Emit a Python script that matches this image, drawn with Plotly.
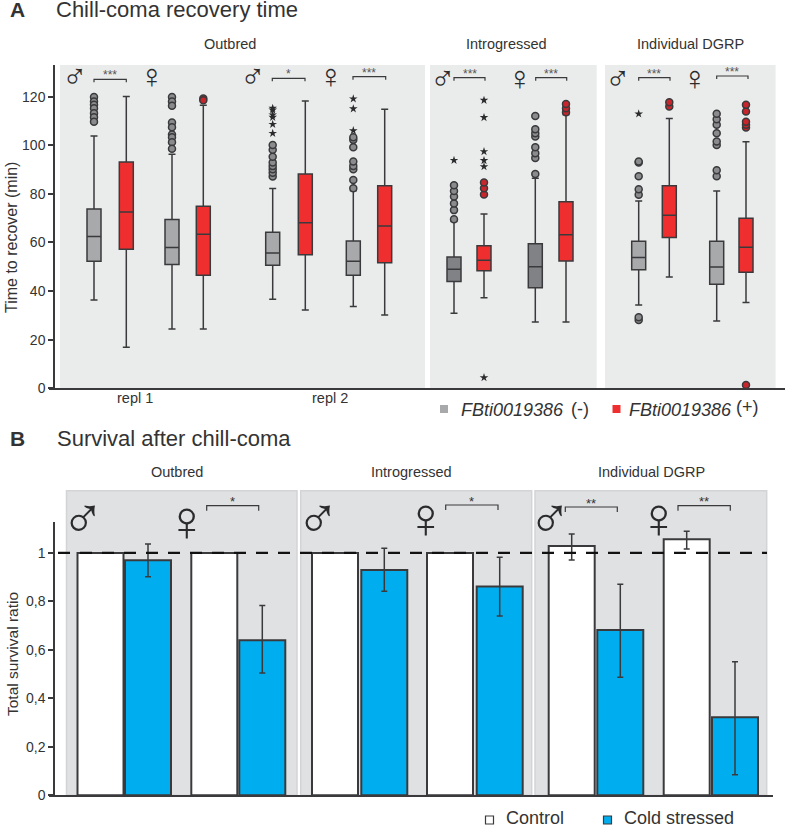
#!/usr/bin/env python
# -*- coding: utf-8 -*-
import plotly.graph_objects as go

W, H = 785, 826

# Panel A: boxplot statistics (minutes)
box_q1 = [52.3, 57.2, 50.9, 46.5, 50.6, 54.9, 46.5, 51.6, 43.9, 48.4, 41.4, 52.4, 48.8, 62.0, 42.8, 47.7]
box_median = [62.4, 72.5, 57.9, 63.4, 55.7, 68.1, 52.3, 66.8, 49.0, 52.7, 50.0, 63.2, 53.8, 71.2, 49.9, 58.0]
box_q3 = [73.8, 93.1, 69.4, 74.9, 64.2, 88.2, 60.6, 83.3, 54.0, 58.6, 59.5, 76.7, 60.5, 83.3, 60.5, 70.0]
box_low = [36.3, 16.9, 24.4, 24.4, 36.6, 32.2, 33.6, 30.2, 30.9, 37.3, 27.3, 27.3, 34.3, 45.8, 27.7, 35.3]
box_up = [103.8, 120.0, 96.3, 116.4, 82.2, 118.2, 81.3, 114.8, 68.6, 71.7, 86.4, 112.5, 77.1, 111.0, 81.2, 101.4]
box_circles = [
    [119.8, 118.0, 116.6, 115.2, 113.2, 111.5, 109.7],
    [],
    [119.8, 118.0, 116.2, 109.3, 107.4, 104.4, 103.3, 101.2, 98.5],
    [119.2, 118.5],
    [87.1, 88.7, 90.1, 91.4, 92.9, 95.3, 98.1, 100.1],
    [],
    [82.3, 85.7, 90.1, 91.5, 93.3, 99.2, 102.2, 103.3],
    [],
    [69.5, 73.3, 76.0, 78.9, 81.2, 83.5],
    [79.7, 82.3, 84.7],
    [88.2, 94.7, 96.7, 99.2, 103.6, 104.9, 106.6, 112.0],
    [113.6, 115.2, 117.0],
    [28.1, 29.2, 79.6, 81.9, 87.2, 92.9, 93.3],
    [115.9, 117.7],
    [87.2, 89.7, 100.1, 101.5, 104.9, 108.4, 110.7, 112.9],
    [1.4, 107.3, 108.4, 109.7, 113.9, 116.6],
]
box_stars = [
    [], [], [], [],
    [104.9, 108.6, 111.5, 112.5, 114.5, 115.2],
    [],
    [106.0, 115.0, 119.1],
    [],
    [93.8],
    [4.4, 91.2, 93.7, 97.4, 111.4, 118.5],
    [], [],
    [112.9],
    [], [], [],
]
box_x = [94, 126.3, 172, 203.3, 272.7, 305.3, 353.3, 384.7, 454, 484, 535.3, 566, 638.7, 669.3, 716.7, 746]
box_fill = ['#A7A9AB', '#EE2E2F', '#A7A9AB', '#EE2E2F', '#A7A9AB', '#EE2E2F', '#A7A9AB', '#EE2E2F',
            '#808285', '#EE2E2F', '#808285', '#EE2E2F', '#A7A9AB', '#EE2E2F', '#A7A9AB', '#EE2E2F']
recover_ticks = [0, 20, 40, 60, 80, 100, 120]

# Panel B: survival ratio
control_values = [1, 1, 1, 1, 1.029, 1.057]
control_up = [None, None, None, None, 1.078, 1.09]
control_low = [None, None, None, None, 0.971, 1.016]
cold_values = [0.97, 0.64, 0.93, 0.862, 0.682, 0.322]
cold_up = [1.037, 0.783, 1.019, 0.982, 0.871, 0.551]
cold_low = [0.902, 0.505, 0.842, 0.74, 0.487, 0.085]
control_x = [100.5, 214.3, 335, 450, 571.7, 686.7]
cold_x = [148, 262.3, 384.3, 499.7, 620.3, 735]
survival_ticks = [0, 0.2, 0.4, 0.6, 0.8, 1]
survival_labels = ['0', '0,2', '0,4', '0,6', '0,8', '1']

FONT = 'Liberation Sans'
DARK = '#3A3A3C'
TEXT = '#333333'


def px(x):
    return x / W


def py(y):
    return 1 - y / H


fig = go.Figure()

# Boxplots
for i in range(len(box_x)):
    fig.add_trace(go.Box(x=[box_x[i]], q1=[box_q1[i]], median=[box_median[i]], q3=[box_q3[i]],
                         lowerfence=[box_low[i]], upperfence=[box_up[i]],
                         width=14, whiskerwidth=0.5, boxpoints=False,
                         fillcolor=box_fill[i], line=dict(color=DARK, width=1.5),
                         xaxis='x', yaxis='y'))
    red = box_fill[i] == '#EE2E2F'
    if box_circles[i]:
        fig.add_trace(go.Scatter(x=[box_x[i]] * len(box_circles[i]), y=box_circles[i], mode='markers',
                                 marker=dict(symbol='circle', size=7,
                                             color='#C8252C' if red else '#8A8B8D',
                                             line=dict(color=DARK, width=1.5)),
                                 xaxis='x', yaxis='y'))
    if box_stars[i]:
        fig.add_trace(go.Scatter(x=[box_x[i]] * len(box_stars[i]), y=box_stars[i], mode='markers',
                                 marker=dict(symbol='star', size=6.5, color='#2B2B2D'),
                                 xaxis='x', yaxis='y'))

# Barres
fig.add_trace(go.Bar(x=control_x, y=control_values, width=46, name='Control',
                     marker=dict(color='white', line=dict(color=DARK, width=2)),
                     error_y=dict(type='data', symmetric=False,
                                  array=[None if u is None else u - v for u, v in zip(control_up, control_values)],
                                  arrayminus=[None if l is None else v - l for l, v in zip(control_low, control_values)],
                                  color=DARK, thickness=1.5, width=3),
                     xaxis='x2', yaxis='y2'))
fig.add_trace(go.Bar(x=cold_x, y=cold_values, width=46, name='Cold stressed',
                     marker=dict(color='#00AEEF', line=dict(color=DARK, width=2)),
                     error_y=dict(type='data', symmetric=False,
                                  array=[u - v for u, v in zip(cold_up, cold_values)],
                                  arrayminus=[v - l for l, v in zip(cold_low, cold_values)],
                                  color=DARK, thickness=1.5, width=3),
                     xaxis='x2', yaxis='y2'))

shapes = []

# Fonds gris
for x0, x1 in [(60, 425), (430, 596.7), (605, 775.6)]:
    shapes.append(dict(type='rect', xref='paper', yref='paper', x0=px(x0), x1=px(x1), y0=py(388.3), y1=py(65),
                       fillcolor='#EAEBEB', line=dict(width=0), layer='below'))
for x0, x1 in [(66.5, 297), (300.7, 531.7), (535, 766.7)]:
    shapes.append(dict(type='rect', xref='paper', yref='paper', x0=px(x0), x1=px(x1), y0=py(795.3), y1=py(490.7),
                       fillcolor='#E0E1E3', line=dict(color='#D3D4D6', width=1.5), layer='below'))

# Ligne pointillee a 1
shapes.append(dict(type='line', xref='paper', yref='y2', x0=px(58), x1=px(767), y0=1, y1=1,
                   line=dict(color='#111111', width=2.2, dash='12px,10px'), layer='above'))


def bracket(x0, x1, y, leg):
    shapes.append(dict(type='path', xref='paper', yref='paper',
                       path=f'M {px(x0)} {py(y + leg)} L {px(x0)} {py(y)} L {px(x1)} {py(y)} L {px(x1)} {py(y + leg)}',
                       line=dict(color=DARK, width=1.2)))


annotations = []


def label(x, y, text, size=14.5, color=TEXT, xanchor='center', angle=0, family=FONT):
    annotations.append(dict(xref='paper', yref='paper', x=px(x), y=py(y), text=text, showarrow=False,
                            xanchor=xanchor, yanchor='middle', textangle=angle,
                            font=dict(family=family, size=size, color=color)))


# Titres
label(8, 9, '<b>A</b>', size=21, xanchor='left')
label(54, 9, 'Chill-coma recovery time', size=22, xanchor='left')
label(8, 438, '<b>B</b>', size=21, xanchor='left')
label(55, 438, 'Survival after chill-coma', size=22, xanchor='left')

for x, text in [(230, 'Outbred'), (506, 'Introgressed'), (690.7, 'Individual DGRP')]:
    label(x, 44.5, text)
for x, text in [(177, 'Outbred'), (411.5, 'Introgressed'), (651.7, 'Individual DGRP')]:
    label(x, 471.5, text)
label(134.7, 398, 'repl 1')
label(330, 398, 'repl 2')

label(11, 238, 'Time to recover (min)', size=16, angle=-90)
label(12, 654, 'Total survival ratio', size=15.5, angle=-90)

# Symboles de sexe et significativite, panneau A
for x, y, s in [(75, 76, '♂'), (152, 76, '♀'), (253.3, 76, '♂'), (330.7, 76, '♀'),
                (443.3, 77.7, '♂'), (520, 77.7, '♀'), (618, 77.7, '♂'), (695, 77.7, '♀')]:
    label(x, y, s, size=34, color='#2B2B2D')
for x0, x1, y, s in [(94, 126.3, 79.3, '***'), (272.3, 305, 78.3, '*'), (353, 385.7, 76.7, '***'),
                     (454, 485, 77.7, '***'), (535.7, 566.7, 77.7, '***'),
                     (638.7, 670, 77.7, '***'), (716.7, 748, 76, '***')]:
    bracket(x0, x1, y, 3)
    label((x0 + x1) / 2, y - 4, s, size=12, color='#555555')

# Symboles de sexe et significativite, panneau B
for x, y, s in [(83, 517, '♂'), (187, 520, '♀'), (318, 517, '♂'), (426, 517, '♀'), (550, 517, '♂'), (659, 517, '♀')]:
    label(x, y, s, size=58, color='#2B2B2D')
for x0, x1, y, s in [(206.7, 258.7, 505.7, '*'), (445.7, 498, 505, '*'),
                     (565.3, 617.3, 507, '**'), (678, 730.3, 505.7, '**')]:
    bracket(x0, x1, y, 5)
    label((x0 + x1) / 2, y - 4, s, size=13)

# Legendes
shapes.append(dict(type='rect', xref='paper', yref='paper', x0=px(440), x1=px(448), y0=py(413), y1=py(405),
                   fillcolor='#A7A9AB', line=dict(width=0)))
shapes.append(dict(type='rect', xref='paper', yref='paper', x0=px(612.5), x1=px(620.5), y0=py(413), y1=py(405),
                   fillcolor='#EE2E2F', line=dict(width=0)))
label(459, 410, '<i>FBti0019386</i>', size=18, xanchor='left')
label(569, 409, '(-)', size=18, xanchor='left')
label(626.7, 410, '<i>FBti0019386</i>', size=18, xanchor='left')
label(734, 407, '(+)', size=18, xanchor='left')

shapes.append(dict(type='rect', xref='paper', yref='paper', x0=px(485.5), x1=px(493.5), y0=py(824), y1=py(816),
                   fillcolor='white', line=dict(color=DARK, width=1.2)))
shapes.append(dict(type='rect', xref='paper', yref='paper', x0=px(603.5), x1=px(611.5), y0=py(824), y1=py(816),
                   fillcolor='#00AEEF', line=dict(color=DARK, width=1.2)))
label(504, 817.5, 'Control', size=18, xanchor='left')
label(622, 817.5, 'Cold stressed', size=18, xanchor='left')

# automargin coupe: le template par defaut pousse les marges de quelques pixels
axis_line = dict(showline=True, linecolor=DARK, linewidth=1.5, showgrid=False, zeroline=False, automargin=False)
fig.update_layout(
    width=W, height=H, autosize=False,
    margin=dict(l=0, r=0, t=0, b=0),
    paper_bgcolor='white', plot_bgcolor='rgba(0,0,0,0)',
    showlegend=False, boxmode='overlay', barmode='overlay',
    font=dict(family=FONT, color=TEXT),
    shapes=shapes, annotations=annotations,
    xaxis=dict(domain=[px(49), 1], range=[49, 785], showticklabels=False, ticks='', anchor='y', **axis_line),
    yaxis=dict(domain=[py(388.3), py(65)], range=[0, 133], anchor='free', position=px(54),
               tickvals=recover_ticks, ticks='outside', ticklen=5, tickwidth=1.5, tickcolor=DARK,
               tickfont=dict(size=14, color=TEXT), **axis_line),
    xaxis2=dict(domain=[px(49), px(772.7)], range=[49, 772.7], showticklabels=False, ticks='', anchor='y2', **axis_line),
    yaxis2=dict(domain=[py(795.3), py(521.7)], range=[0, 1.129], anchor='free', position=px(54),
                tickvals=survival_ticks, ticktext=survival_labels, ticks='outside', ticklen=5, tickwidth=1.5,
                tickcolor=DARK, tickfont=dict(size=14, color=TEXT), **axis_line),
)

# marge du body a zero pour que la figure remplisse la fenetre
fig.write_html("out.html", config=dict(displayModeBar=False),
               post_script="document.body.style.margin='0';document.body.style.overflow='hidden';")
